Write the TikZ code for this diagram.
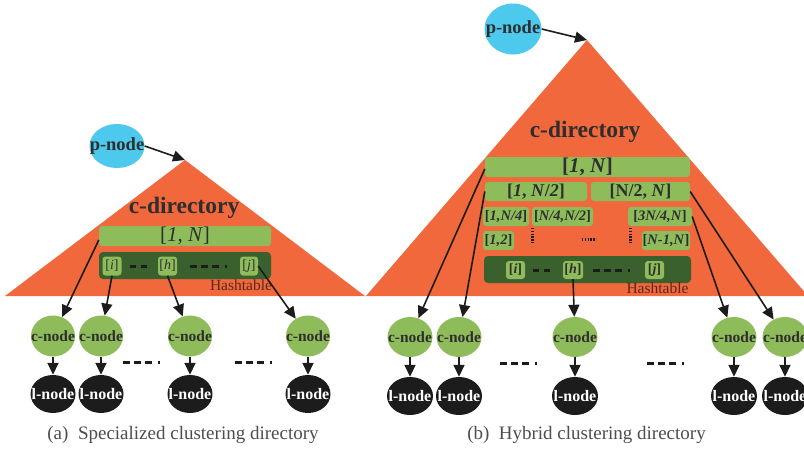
\documentclass[tikz,border=0pt]{standalone}
\usepackage{fontspec}
\setmainfont{Liberation Serif}
\usetikzlibrary{arrows.meta,shapes.geometric}

\definecolor{dirorange}{HTML}{F0683B}
\definecolor{barlight}{HTML}{8FBC5B}
\definecolor{bardark}{HTML}{3A602E}
\definecolor{pcyan}{HTML}{4DC9EE}
\definecolor{inkgray}{HTML}{2E2E2E}
\definecolor{hashbrown}{HTML}{5A2A22}
\definecolor{lnodeblack}{HTML}{1C1C1C}

\newcommand{\fsz}[1]{\fontsize{#1}{#1}\selectfont}
% text that may spill over its ellipse without widening it
\newcommand{\spill}[1]{\makebox[0pt]{#1}}

\tikzset{
  x=1pt, y=-1pt,
  pnode/.style={ellipse, fill=pcyan, inner sep=0pt, text=inkgray,
    font=\fsz{18.5}\bfseries},
  cnode/.style={ellipse, fill=barlight, minimum width=44pt, minimum height=41pt,
    inner sep=0pt, text=inkgray, font=\fsz{15.5}\bfseries},
  lnode/.style={ellipse, fill=lnodeblack, minimum width=45pt, minimum height=38pt,
    inner sep=0pt, text=white, font=\fsz{16}\bfseries},
  rangebar/.style={fill=barlight, rounded corners=3pt, inner sep=0pt, text=inkgray},
  hashbar/.style={fill=bardark, rounded corners=4pt, inner sep=0pt},
  keybox/.style={fill=barlight, rounded corners=3pt, inner sep=0pt, text=inkgray,
    minimum width=19pt, minimum height=19pt},
  dirlabel/.style={text=inkgray, font=\fsz{23.5}\bfseries},
  hashlabel/.style={text=hashbrown, font=\fsz{15.5}},
  link/.style={draw=lnodeblack, line width=1.6pt,
    -{Triangle[length=12pt,width=11pt]}},
  gap/.style={draw=lnodeblack, line width=3pt,
    dash pattern=on 7pt off 4pt on 7pt off 4pt on 7pt off 6pt on 2pt off 4pt},
  shortgap/.style={draw=lnodeblack, line width=3pt, dash pattern=on 6pt off 5pt},
  dotgap/.style={draw=lnodeblack, line width=3pt, dash pattern=on 1.4pt off 1.4pt},
  caption/.style={text=inkgray!85, font=\fsz{19}},
}

\begin{document}
\begin{tikzpicture}
\useasboundingbox (0,0) rectangle (804,450);
\clip (0,0) rectangle (804,450);

% ---------------- (a) specialized clustering directory ----------------
\fill[dirorange] (185,160) -- (5,296) -- (365,296) -- cycle;
\coordinate (apexL) at (185,160);
\node[pnode, minimum width=55pt, minimum height=44pt] (pL) at (117,146) {\spill{p-node}};
\node[dirlabel] (dirL) at (184,208) {c-directory};

\node[rangebar, minimum width=172pt, minimum height=20pt, font=\fsz{21}]
  (barL) at (185,236) {[\textit{1}, \textit{N}]};
\node[hashbar, minimum width=172pt, minimum height=27pt] (hashL) at (185,265.5) {};
\node[keybox, font=\fsz{14}] (kiL) at (112,266) {[\textit{i}]};
\node[keybox, font=\fsz{14}] (khL) at (167.5,266) {[\textit{h}]};
\node[keybox, font=\fsz{14}, minimum width=18pt] (kjL) at (249,266) {[\textit{j}]};
\coordinate (hdA1) at (130,266); \coordinate (hdA2) at (148,266);
\coordinate (hdB1) at (190,266); \coordinate (hdB2) at (227,266);
\draw[shortgap] (hdA1) -- (hdA2);
\draw[gap] (hdB1) -- (hdB2);
\node[hashlabel] (htL) at (241,285) {Hashtable};

\foreach \i/\x in {1/53, 2/101, 3/190, 4/308} {
  \node[cnode] (cL\i) at (\x,336) {\spill{c-node}};
  \node[lnode] (lL\i) at (\x,394) {\spill{l-node}};
  \draw[link] (cL\i.south) -- (lL\i.north);
}
\coordinate (rdA1) at (123,362); \coordinate (rdA2) at (160,362);
\coordinate (rdB1) at (235,362); \coordinate (rdB2) at (272,362);
\draw[gap] (rdA1) -- (rdA2);
\draw[gap] (rdB1) -- (rdB2);

\draw[link] (pL.east) -- (apexL);
\draw[link] ([yshift=-4pt]barL.west) -- (cL1);
\draw[link] (kiL.south) -- (cL2);
\draw[link] (khL.south) -- (cL3);
\draw[link] (kjL.east) -- (cL4);

\node[caption] (capA) at (183,435) {(a)\hspace{0.5em}Specialized clustering directory};

% ---------------- (b) hybrid clustering directory ----------------
\fill[dirorange] (587,40) -- (366,296) -- (808,296) -- cycle;
\coordinate (apexR) at (587,40);
\node[pnode, minimum width=57pt, minimum height=51pt] (pR) at (513,29) {\spill{p-node}};
\node[dirlabel] (dirR) at (585,132) {c-directory};

\node[rangebar, minimum width=205pt, minimum height=20pt, font=\fsz{21}\bfseries]
  (barT) at (587.5,167) {[\textit{1}, \textit{N}]};
\node[rangebar, minimum width=102pt, minimum height=19pt, font=\fsz{18}\bfseries]
  (r2a) at (536,191.5) {[\textit{1}, \textit{N}/\textit{2}]};
\node[rangebar, minimum width=99pt, minimum height=19pt, font=\fsz{18}\bfseries]
  (r2b) at (640.5,191.5) {[N/2, \textit{N}]};
\node[rangebar, minimum width=46pt, minimum height=19pt, font=\fsz{14.5}\bfseries]
  (r3a) at (506,216.5) {[\textit{1,N/4}]};
\node[rangebar, minimum width=61pt, minimum height=19pt, font=\fsz{14.5}\bfseries]
  (r3b) at (562.5,216.5) {[\textit{N/4,N/2}]};
\node[rangebar, minimum width=64pt, minimum height=19pt, font=\fsz{14.5}\bfseries]
  (r3c) at (660,216.5) {[\textit{3N/4,N}]};
\node[rangebar, minimum width=31pt, minimum height=19pt, font=\fsz{14.5}\bfseries]
  (r4a) at (498.5,240.5) {[\textit{1,2}]};
\node[rangebar, minimum width=48pt, minimum height=19pt, font=\fsz{14.5}\bfseries]
  (r4b) at (666,240.5) {[\textit{N-1,N}]};

\coordinate (vdA1) at (532,228); \coordinate (vdA2) at (532,243);
\coordinate (vdB1) at (630,228); \coordinate (vdB2) at (630,243);
\coordinate (hdC1) at (582,239); \coordinate (hdC2) at (596,239);
\draw[dotgap] (vdA1) -- (vdA2);
\draw[dotgap] (vdB1) -- (vdB2);
\draw[dotgap] (hdC1) -- (hdC2);

\node[hashbar, minimum width=207pt, minimum height=27pt] (hashR) at (587.5,269.5) {};
\node[keybox, font=\fsz{14}\bfseries, minimum height=18pt] (kiR) at (515.5,270) {[\textit{i}]};
\node[keybox, font=\fsz{14}\bfseries, minimum height=18pt, minimum width=20pt] (khR) at (573,270) {[\textit{h}]};
\node[keybox, font=\fsz{14}\bfseries, minimum height=18pt] (kjR) at (654.5,270) {[\textit{j}]};
\coordinate (hdD1) at (533,270); \coordinate (hdD2) at (552,270);
\coordinate (hdE1) at (593,270); \coordinate (hdE2) at (632,270);
\draw[shortgap] (hdD1) -- (hdD2);
\draw[gap] (hdE1) -- (hdE2);
\node[hashlabel] (htR) at (657.5,288) {Hashtable};

\foreach \i/\x in {1/410, 2/459, 3/575, 4/734, 5/785} {
  \node[cnode, minimum width=45pt, minimum height=40pt] (cR\i) at (\x,337) {\spill{c-node}};
  \node[lnode, minimum width=46pt] (lR\i) at (\x,396) {\spill{l-node}};
  \draw[link] (cR\i.south) -- (lR\i.north);
}
\coordinate (rdC1) at (500,363); \coordinate (rdC2) at (537,363);
\coordinate (rdD1) at (647,363); \coordinate (rdD2) at (684,363);
\draw[gap] (rdC1) -- (rdC2);
\draw[gap] (rdD1) -- (rdD2);

\draw[link] (pR.east) -- (apexR);
\draw[link] ([yshift=-2pt]barT.west) -- (cR1);
\draw[link] (r2a.west) -- (cR2);
\draw[link] (khR.south) -- (cR3);
\draw[link] (r3c.east) -- (cR4);
\draw[link] (r2b.east) -- (cR5);

\node[caption] (capB) at (586.5,435) {(b)\hspace{0.5em}Hybrid clustering directory};
\end{tikzpicture}
\end{document}
